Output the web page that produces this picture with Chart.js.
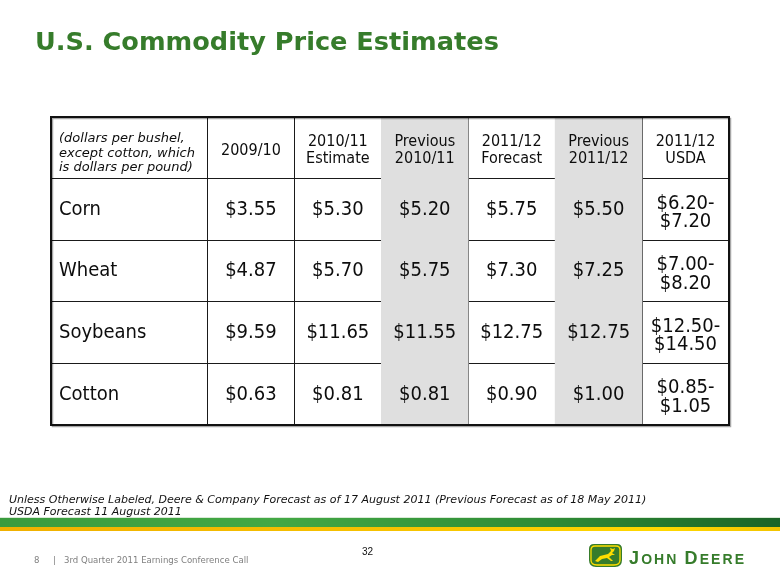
<!DOCTYPE html>
<html>
<head>
<meta charset="utf-8">
<script src="https://cdn.jsdelivr.net/npm/chart.js@4.4.0/dist/chart.umd.min.js"></script>
<style>
html, body { margin: 0; padding: 0; background: #fff; }
#slide { position: relative; width: 780px; height: 585px; overflow: hidden; font-family: 'DejaVu Sans', Verdana, sans-serif; }
#table { position: absolute; left: 0; top: 0; }
.abs { position: absolute; margin: 0; white-space: nowrap; }
#title { left: 35px; top: 28px; font-size: 25.6px; line-height: 26px; font-weight: bold; color: #367c2b; }
#note { left: 9px; top: 494px; font-size: 11px; line-height: 11.7px; font-style: italic; color: #111; }
#band { left: 0; top: 517px; width: 780px; height: 10px; background: linear-gradient(to right, #3a9b3e 0%, #43a845 35%, #2f8c36 70%, #1b6427 100%); border-top: 1px solid #d9ead6; }
#gold { left: 0; top: 527px; width: 780px; height: 4px; background: linear-gradient(to right, #f0b000 0%, #f6c200 50%, #ffd800 85%, #f2c400 100%); }
#foot { left: 34px; top: 555px; font-family: 'DejaVu Sans Condensed', 'DejaVu Sans', sans-serif; font-size: 9.5px; line-height: 10px; color: #7f7f7f; }
#page { left: 362px; top: 547px; font-family: 'Liberation Sans', Arial, sans-serif; font-size: 10px; line-height: 10px; color: #111; }
#brand { left: 629px; top: 548px; font-family: 'Liberation Sans', Arial, sans-serif; font-weight: bold; color: #367c2b; letter-spacing: 2.1px; }
#brand .big { font-size: 18px; }
#brand .sm { font-size: 14px; }
#badge { left: 588px; top: 543px; }
</style>
</head>
<body>
<div id="slide">
  <canvas id="table" width="780" height="585"></canvas>
  <div id="title" class="abs">U.S. Commodity Price Estimates</div>
  <div id="note" class="abs">Unless Otherwise Labeled, Deere &amp; Company Forecast as of 17 August 2011 (Previous Forecast as of 18 May 2011)<br>USDA Forecast 11 August 2011</div>
  <div id="band" class="abs"></div>
  <div id="gold" class="abs"></div>
  <div id="foot" class="abs">8&nbsp;&nbsp;&nbsp;&nbsp;&nbsp;|&nbsp;&nbsp;&nbsp;3rd Quarter 2011 Earnings Conference Call</div>
  <div id="page" class="abs">32</div>
  <svg id="badge" class="abs" width="35" height="25" viewBox="0 0 35 25">
    <path d="M6 1 H29 Q34 1 34 6 V17 Q34 24 27 24 H8 Q1 24 1 17 V6 Q1 1 6 1 Z" fill="#367c2b"/>
    <path d="M7 3 H28 Q32 3 32 7 V17 Q32 22 26 22 H9 Q3 22 3 17 V7 Q3 3 7 3 Z" fill="none" stroke="#ffde00" stroke-width="1.3"/>
    <path d="M7 18 L12 13 L16 12 L20 11 L23 8 L22 5 L25 6 L27 5 L26 8 L24 10 L27 12 L24 12 L21 14 L25 18 L23 18 L19 15 L14 16 L10 19 Z" fill="#ffde00"/>
  </svg>
  <div id="brand" class="abs"><span class="big">J</span><span class="sm">OHN </span><span class="big">D</span><span class="sm">EERE</span></div>
</div>
<script>
// table content
var unitNote = ["(dollars per bushel,", "except cotton, which", "is dollars per pound)"];
var colHeaders = ["2009/10", "2010/11\nEstimate", "Previous\n2010/11", "2011/12\nForecast", "Previous\n2011/12", "2011/12\nUSDA"];
var crops = ["Corn", "Wheat", "Soybeans", "Cotton"];
var price0910 = [3.55, 4.87, 9.59, 0.63];
var est1011 = [5.30, 5.70, 11.65, 0.81];
var prev1011 = [5.20, 5.75, 11.55, 0.81];
var fcst1112 = [5.75, 7.30, 12.75, 0.90];
var prev1112 = [5.50, 7.25, 12.75, 1.00];
var usdaLow = [6.20, 7.00, 12.50, 0.85];
var usdaHigh = [7.20, 8.20, 14.50, 1.05];

function fmt(v) { return "$" + v.toFixed(2); }

var colValues = [
    price0910.map(fmt),
    est1011.map(fmt),
    prev1011.map(fmt),
    fcst1112.map(fmt),
    prev1112.map(fmt),
    usdaLow.map(function (v, i) { return fmt(v) + "-\n" + fmt(usdaHigh[i]); }),
];

var FONT = "'DejaVu Sans Condensed', 'DejaVu Sans', sans-serif";

// first column is wider: it starts 1.8 units left of column 1's left edge
var xEdges = [-1.3].concat(colHeaders.map(function (h, i) { return i + 0.5; }));
var yEdges = [-0.5, 0.5, 1.5, 2.5, 3.5, 4.5];

var datasets = [];

// cell fills, shaded for the "Previous" columns
datasets.push({
    type: "bar",
    order: 5,
    data: colHeaders.map(function (h, i) { return { x: i + 1, y: [-0.5, 4.5] }; }),
    backgroundColor: colHeaders.map(function (h) { return h.indexOf("Previous") === 0 ? "#dfdfdf" : "rgba(0,0,0,0)"; }),
    borderWidth: 0,
    barPercentage: 1,
    categoryPercentage: 1,
});

// label column
datasets.push({
    type: "scatter",
    order: 1,
    data: [{ x: -1.3, y: 0 }].concat(crops.map(function (c, i) { return { x: -1.3, y: i + 1 }; })),
    cellText: [unitNote.join("\n")].concat(crops),
    align: "left",
    pointRadius: 0,
});

// value columns
colHeaders.forEach(function (h, c) {
    datasets.push({
        type: "scatter",
        order: 1,
        data: [{ x: c + 1, y: 0 }].concat(colValues[c].map(function (v, r) { return { x: c + 1, y: r + 1 }; })),
        cellText: [h].concat(colValues[c]),
        align: "center",
        pointRadius: 0,
    });
});

var cellTextPlugin = {
    id: "cellText",
    afterDatasetsDraw: function (chart) {
        var ctx = chart.ctx;
        ctx.save();
        ctx.fillStyle = "#0d0d0d";
        ctx.textBaseline = "alphabetic";
        chart.data.datasets.forEach(function (ds, di) {
            if (!ds.cellText) return;
            var meta = chart.getDatasetMeta(di);
            meta.data.forEach(function (pt, i) {
                var lines = ds.cellText[i].split("\n");
                var size, lh, dy, font;
                if (i === 0 && ds.align === "left") {
                    size = 13; lh = 14.8; dy = 4; font = "italic 13px 'DejaVu Sans', sans-serif";
                } else if (i === 0) {
                    size = 16; lh = 16.6; dy = 1; font = "16px " + FONT;
                } else {
                    size = 20; lh = 18.4; dy = lines.length > 1 ? 1 : -2; font = "20px " + FONT;
                }
                ctx.font = font;
                var x = pt.x;
                if (ds.align === "left") {
                    ctx.textAlign = "left";
                    x += 8;
                } else {
                    ctx.textAlign = "center";
                }
                var cap = size * 0.73;
                lines.forEach(function (line, k) {
                    var y = pt.y + cap / 2 + (k - (lines.length - 1) / 2) * lh + dy;
                    ctx.fillText(line, x, y);
                });
            });
        });
        ctx.restore();
    },
    afterDraw: function (chart) {
        var a = chart.chartArea;
        var ctx = chart.ctx;
        ctx.save();
        ctx.strokeStyle = "rgba(0,0,0,0.35)";
        ctx.lineWidth = 1.5;
        ctx.strokeRect(a.left + 1.5, a.top + 1.5, a.right - a.left, a.bottom - a.top);
        ctx.strokeStyle = "#111";
        ctx.lineWidth = 2;
        ctx.strokeRect(a.left, a.top, a.right - a.left, a.bottom - a.top);
        ctx.restore();
    },
};

new Chart(document.getElementById("table"), {
    type: "bar",
    data: { datasets: datasets },
    plugins: [cellTextPlugin],
    options: {
        responsive: false,
        animation: false,
        events: [],
        layout: { padding: { left: 51, top: 117, right: 51, bottom: 160 } },
        plugins: { legend: { display: false }, tooltip: { enabled: false } },
        scales: {
            x: {
                type: "linear",
                min: -1.3,
                max: 6.5,
                offset: false,
                z: 1,
                grid: { color: "#1a1a1a", lineWidth: 1, drawTicks: false, offset: false },
                border: { display: false },
                ticks: { display: false },
                afterBuildTicks: function (s) { s.ticks = xEdges.map(function (v) { return { value: v }; }); },
                afterFit: function (s) { s.height = 0; },
            },
            y: {
                type: "linear",
                reverse: true,
                min: -0.5,
                max: 4.5,
                z: 1,
                grid: { color: "#1a1a1a", lineWidth: 1, drawTicks: false, offset: false },
                border: { display: false },
                ticks: { display: false },
                afterBuildTicks: function (s) { s.ticks = yEdges.map(function (v) { return { value: v }; }); },
                afterFit: function (s) { s.width = 0; },
            },
        },
    },
});
</script>
</body>
</html>
